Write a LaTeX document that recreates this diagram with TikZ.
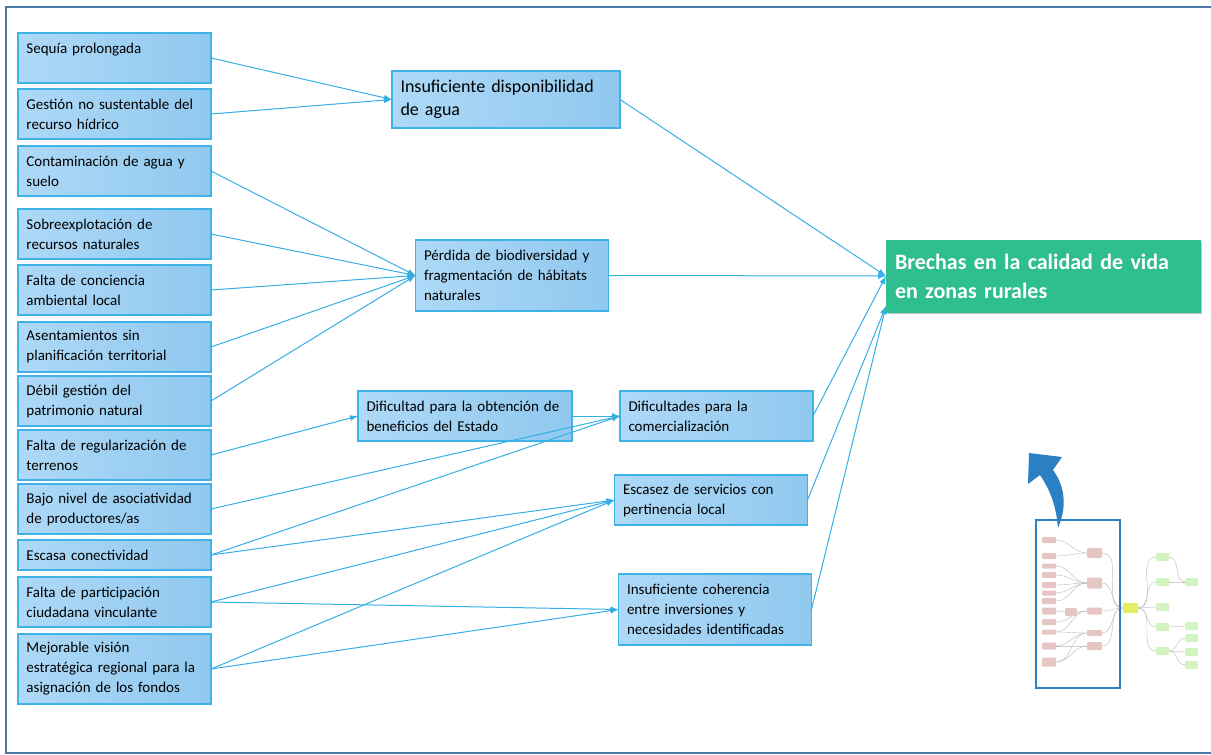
\documentclass[tikz,border=0pt]{standalone}
\usepackage{fontspec}
\setmainfont{Carlito}
\usepackage{tikz}
\usetikzlibrary{positioning,arrows.meta,shadows}

\definecolor{boxlight}{HTML}{AED9F7}
\definecolor{boxdark}{HTML}{90C8EF}
\definecolor{boxline}{HTML}{3FB2E8}
\definecolor{linkcol}{HTML}{35AEE6}
\definecolor{goalgreen}{HTML}{2EBE8F}
\definecolor{framecol}{HTML}{4A78A9}
\definecolor{thumbcol}{HTML}{2A80C2}
\definecolor{pinkbox}{HTML}{E6C5C5}
\definecolor{limebox}{HTML}{D3F4C2}
\definecolor{yellowbox}{HTML}{E2EE66}

\begin{document}
\begin{tikzpicture}[x=1pt, y=-1pt, >={Latex[length=8pt,width=6pt]}]
% Define styles
\tikzset{
  cause/.style = {rectangle, draw=boxline, line width=1.2pt, outer sep=0pt, left color=boxlight, right color=boxdark, text width=176pt, minimum width=193pt, minimum height=50pt, inner xsep=8.5pt, inner ysep=4pt, align=left, font=\fontsize{15}{20}\selectfont},
  effect/.style = {cause},
  goal/.style = {rectangle, fill=goalgreen, draw=goalgreen, outer sep=0pt, text=white, font=\bfseries\fontsize{22}{29}\selectfont, text width=296pt, minimum width=314pt, minimum height=72pt, inner xsep=9pt, align=left, drop shadow={shadow xshift=2pt, shadow yshift=-2pt, opacity=.45}},
  link/.style = {->, draw=linkcol, line width=1pt},
  thumblink/.style = {gray!55, line width=.4pt},
}
\useasboundingbox (0,0) rectangle (1211,755);

% Frame
\draw[framecol, line width=2.5pt] (1216,7) -- (6,7) -- (6,753) -- (1216,753);

% Causes
\node[cause, anchor=north west] (seq) at (18,33) {Sequía prolongada\\\mbox{}};
\node[cause, below=6pt of seq] (gest) {Gestión no sustentable del\\recurso hídrico};
\node[cause, below=7pt of gest] (cont) {Contaminación de agua y\\suelo};
\node[cause, below=13pt of cont] (sobre) {Sobreexplotación de\\recursos naturales};
\node[cause, below=6pt of sobre] (conc) {Falta de conciencia\\ambiental local};
\node[cause, below=7pt of conc] (asent) {Asentamientos sin\\planificación territorial};
\node[cause, below=4pt of asent] (debil) {Débil gestión del\\patrimonio natural};
\node[cause, below=4pt of debil] (regul) {Falta de regularización de\\terrenos};
\node[cause, below=4pt of regul] (asoc) {Bajo nivel de asociatividad\\de productores/as};
\node[cause, below=6pt of asoc, minimum height=30pt] (conect) {Escasa conectividad};
\node[cause, below=7pt of conect] (partic) {Falta de participación\\ciudadana vinculante};
\node[cause, below=7pt of partic, minimum height=70pt] (vision) {Mejorable visión\\estratégica regional para la\\asignación de los fondos};

% Effects
\node[effect, minimum width=228pt, text width=211pt, minimum height=57pt, font=\fontsize{18}{23}\selectfont] (agua) at (506,99.5) {Insuficiente disponibilidad\\de agua};
\node[effect, minimum height=71pt] (biodiv) at (512,275.5) {Pérdida de biodiversidad y\\fragmentación de hábitats\\naturales};
\node[effect, minimum width=214pt, text width=197pt] (benef) at (465,416) {Dificultad para la obtención de\\beneficios del Estado};
\node[effect, right=48pt of benef] (comerc) {Dificultades para la\\comercialización};
\node[effect] (servic) at (711,500) {Escasez de servicios con\\pertinencia local};
\node[effect, minimum height=71pt] (coher) at (715,609.5) {Insuficiente coherencia\\entre inversiones y\\necesidades identificadas};

% Goal
\node[goal] (brecha) at (1043,276) {Brechas en la calidad de vida\\en zonas rurales};
\coordinate (brechalow) at ([yshift=6pt]brecha.south west);

% Connections
\draw[link] (seq.east) -- (agua.west);
\draw[link] (gest.east) -- (agua.west);
\draw[link] (cont.east) -- (biodiv.west);
\draw[link] (sobre.east) -- (biodiv.west);
\draw[link] (conc.east) -- (biodiv.west);
\draw[link] (asent.east) -- (biodiv.west);
\draw[link] (debil.east) -- (biodiv.west);
\draw[link] (regul.east) -- (benef.west);
\draw[link] (benef.east) -- (comerc.west);
\draw[link] (asoc.east) -- (comerc.west);
\draw[link] (conect.east) -- (comerc.west);
\draw[link] (conect.east) -- (servic.west);
\draw[link] (partic.east) -- (servic.west);
\draw[link] (vision.east) -- (servic.west);
\draw[link] (partic.east) -- (coher.west);
\draw[link] (vision.east) -- (coher.west);
\draw[link] (agua.east) -- (brecha.west);
\draw[link] (biodiv.east) -- (brecha.west);
\draw[link] (comerc.east) -- (brecha.west);
\draw[link] (servic.east) -- (brechalow);
\draw[link] (coher.east) -- (brechalow);

% Thumbnail of the whole tree
\foreach \a/\b in {540/553, 556/553, 566/583, 575/583, 585/583, 593/583, 601/583, 622/611, 632/611, 632/633, 646/633, 646/646, 662/633, 662/646}
  \draw[thumblink] (1056,\a) to[out=0,in=180] (1087,\b);
\draw[thumblink] (1056,611) -- (1065,612);
\draw[thumblink] (1077,612) -- (1087,611);
\foreach \b in {553,583,611,633,646}
  \draw[thumblink] (1102,\b) to[out=0,in=180] (1123,608);
\foreach \b in {557,582,607,627,651}
  \draw[thumblink] (1138,608) to[out=0,in=180] (1156,\b);
\foreach \a/\b in {557/582, 582/582, 627/626, 651/638, 651/652, 651/665}
  \draw[thumblink] (1169,\a) to[out=0,in=180] (1185,\b);
\foreach \y/\h in {540/6, 556/6, 566/5, 575/6, 585/6, 593/5, 601/6, 611/7, 622/6, 632/5, 646/7, 662/9}
  \fill[pinkbox, rounded corners=1pt] (1042,{\y-\h/2}) rectangle (1056,{\y+\h/2});
\foreach \x/\y/\h in {1087/553/10, 1087/583/11, 1087/611/7, 1087/633/6, 1087/646/8}
  \fill[pinkbox, rounded corners=1pt] (\x,{\y-\h/2}) rectangle ({\x+15},{\y+\h/2});
\fill[pinkbox, rounded corners=1pt] (1065,608) rectangle (1077,616);
\fill[yellowbox, rounded corners=1pt] (1123,603) rectangle (1138,613);
\foreach \x/\y in {1156/557, 1156/582, 1156/607, 1156/627, 1156/651, 1185/582, 1185/626, 1185/638, 1185/652, 1185/665}
  \fill[limebox, rounded corners=1pt] (\x,{\y-4}) rectangle ({\x+13},{\y+4});
\draw[thumbcol, line width=2.5pt] (1036,520) rectangle (1120,688);

% Curved arrow
\fill[thumbcol] (1058,528) .. controls (1068,505) and (1064,485) .. (1053,470) -- (1062,457)
  -- (1029,453) -- (1028,484) -- (1040,475) .. controls (1050,490) and (1056,505) .. (1058,528);

\end{tikzpicture}
\end{document}
